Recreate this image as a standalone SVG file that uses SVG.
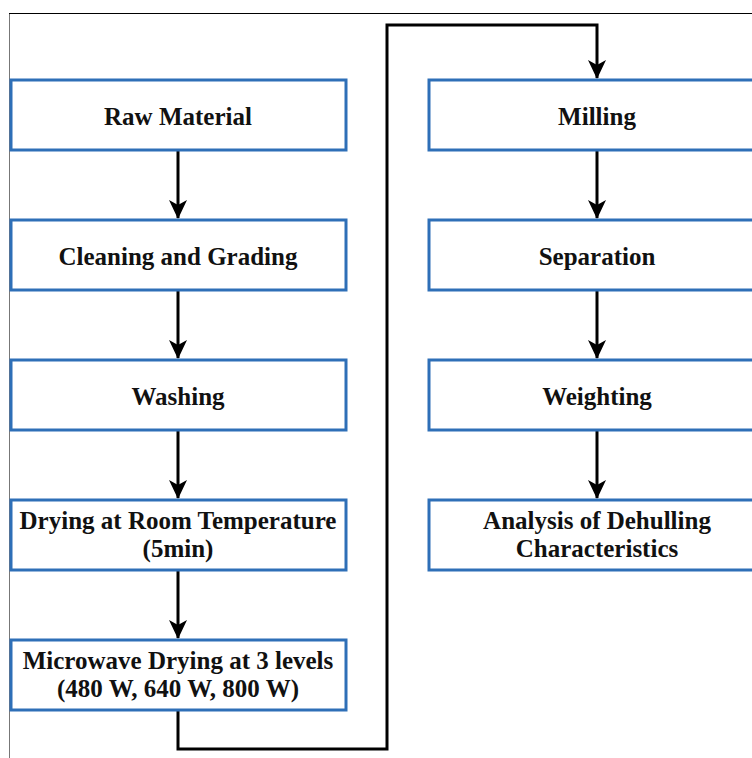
<svg xmlns="http://www.w3.org/2000/svg" width="752" height="758" viewBox="0 0 752 758">
<defs>
<style>
.box{fill:#fff;stroke:#2e6fb7;stroke-width:3}
.lbl{font-family:"Liberation Serif","Times New Roman",serif;font-weight:bold;font-size:25px;fill:#111;text-anchor:middle}
.con{fill:none;stroke:#000;stroke-width:3}
</style>
<marker id="arr" markerWidth="20" markerHeight="20" viewBox="0 0 20 20" refX="18" refY="10" orient="auto" markerUnits="userSpaceOnUse">
<path d="M0,1 L19,10 L0,19 L5,10 Z" fill="#000"/>
</marker>
</defs>
<rect width="752" height="758" fill="#fff"/>
<path d="M9.5,758 V13.5" fill="none" stroke="#777" stroke-width="1"/>
<path d="M9,13.5 H752" fill="none" stroke="#000" stroke-width="1"/>
<g id="connectors">
<path class="con" d="M178,150 V218" marker-end="url(#arr)"/>
<path class="con" d="M178,290 V358" marker-end="url(#arr)"/>
<path class="con" d="M178,430 V498" marker-end="url(#arr)"/>
<path class="con" d="M178,570 V638" marker-end="url(#arr)"/>
<path class="con" d="M178,710 V749 H387 V25 H597 V78" marker-end="url(#arr)"/>
<path class="con" d="M597,150 V218" marker-end="url(#arr)"/>
<path class="con" d="M597,290 V358" marker-end="url(#arr)"/>
<path class="con" d="M597,430 V498" marker-end="url(#arr)"/>
</g>
<g id="raw"><rect class="box" x="11" y="80" width="335" height="70"/><text class="lbl" x="178" y="125">Raw Material</text></g>
<g id="cleaning"><rect class="box" x="11" y="220" width="335" height="70"/><text class="lbl" x="178" y="265">Cleaning and Grading</text></g>
<g id="washing"><rect class="box" x="11" y="360" width="335" height="70"/><text class="lbl" x="178" y="405">Washing</text></g>
<g id="drying"><rect class="box" x="11" y="500" width="335" height="70"/><text class="lbl" x="178" y="529">Drying at Room Temperature</text><text class="lbl" x="178" y="557">(5min)</text></g>
<g id="microwave"><rect class="box" x="11" y="640" width="335" height="70"/><text class="lbl" x="178" y="669">Microwave Drying at 3 levels</text><text class="lbl" x="178" y="697">(480 W, 640 W, 800 W)</text></g>
<g id="milling"><rect class="box" x="429" y="80" width="336" height="70"/><text class="lbl" x="597" y="125">Milling</text></g>
<g id="separation"><rect class="box" x="429" y="220" width="336" height="70"/><text class="lbl" x="597" y="265">Separation</text></g>
<g id="weighting"><rect class="box" x="429" y="360" width="336" height="70"/><text class="lbl" x="597" y="405">Weighting</text></g>
<g id="analysis"><rect class="box" x="429" y="500" width="336" height="70"/><text class="lbl" x="597" y="529">Analysis of Dehulling</text><text class="lbl" x="597" y="557">Characteristics</text></g>
</svg>
